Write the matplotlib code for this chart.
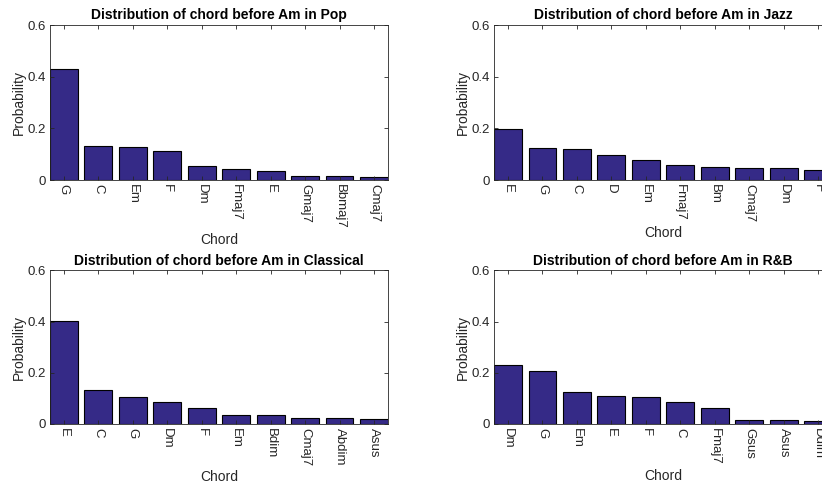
import matplotlib.pyplot as plt
import numpy as np

plt.rcParams['font.family'] = ['Liberation Sans', 'DejaVu Sans']

# chord labels and probabilities per genre
pop_chords = ['G', 'C', 'Em', 'F', 'Dm', 'Fmaj7', 'E', 'Gmaj7', 'Bbmaj7', 'Cmaj7']
pop_probs = [0.430, 0.132, 0.128, 0.114, 0.054, 0.041, 0.034, 0.014, 0.014, 0.012]

jazz_chords = ['E', 'G', 'C', 'D', 'Em', 'Fmaj7', 'Bm', 'Cmaj7', 'Dm', 'F']
jazz_probs = [0.199, 0.123, 0.119, 0.096, 0.079, 0.058, 0.049, 0.045, 0.045, 0.039]

classical_chords = ['E', 'C', 'G', 'Dm', 'F', 'Em', 'Bdim', 'Cmaj7', 'Abdim', 'Asus']
classical_probs = [0.403, 0.133, 0.104, 0.086, 0.061, 0.034, 0.034, 0.023, 0.023, 0.021]

rnb_chords = ['Dm', 'G', 'Em', 'E', 'F', 'C', 'Fmaj7', 'Gsus', 'Asus', 'Ddim']
rnb_probs = [0.231, 0.208, 0.123, 0.110, 0.105, 0.085, 0.063, 0.016, 0.016, 0.013]

panels = [
    ('Pop', pop_chords, pop_probs, [0.0608, 0.6273, 0.4112, 0.3209]),
    ('Jazz', jazz_chords, jazz_probs, [0.601, 0.6273, 0.4112, 0.3209]),
    ('Classical', classical_chords, classical_probs, [0.0608, 0.1222, 0.4112, 0.3180]),
    ('R&B', rnb_chords, rnb_probs, [0.601, 0.1222, 0.4112, 0.3180]),
]

bar_color = '#352a87'
text_color = '#262626'

fig = plt.figure(figsize=(8.22, 4.83), dpi=100)

for genre, chords, probs, pos in panels:
    ax = fig.add_axes(pos)
    x = np.arange(1, len(chords) + 1)
    ax.bar(x, probs, width=0.8, color=bar_color, edgecolor='black', linewidth=0.8)
    ax.set_xlim(0.6, len(chords) + 0.4)
    ax.set_ylim(0, 0.6)
    ax.set_xticks(x)
    ax.set_xticklabels(chords, rotation=270, color=text_color)
    ax.set_yticks([0, 0.2, 0.4, 0.6])
    ax.set_yticklabels(['0', '0.2', '0.4', '0.6'], color=text_color)
    ax.tick_params(direction='in', top=True, right=True, length=3, width=0.6,
                   labelsize=9.5, colors=text_color, pad=3)
    for sp in ax.spines.values():
        sp.set_color(text_color)
        sp.set_linewidth(0.6)
    ax.set_title('Distribution of chord before Am in ' + genre, fontsize=10,
                 fontweight='bold', pad=4)
    ax.set_xlabel('Chord', fontsize=10, color=text_color, labelpad=3)
    ax.set_ylabel('Probability', fontsize=10, color=text_color, labelpad=1)

fig.savefig('out.png', dpi=100)
